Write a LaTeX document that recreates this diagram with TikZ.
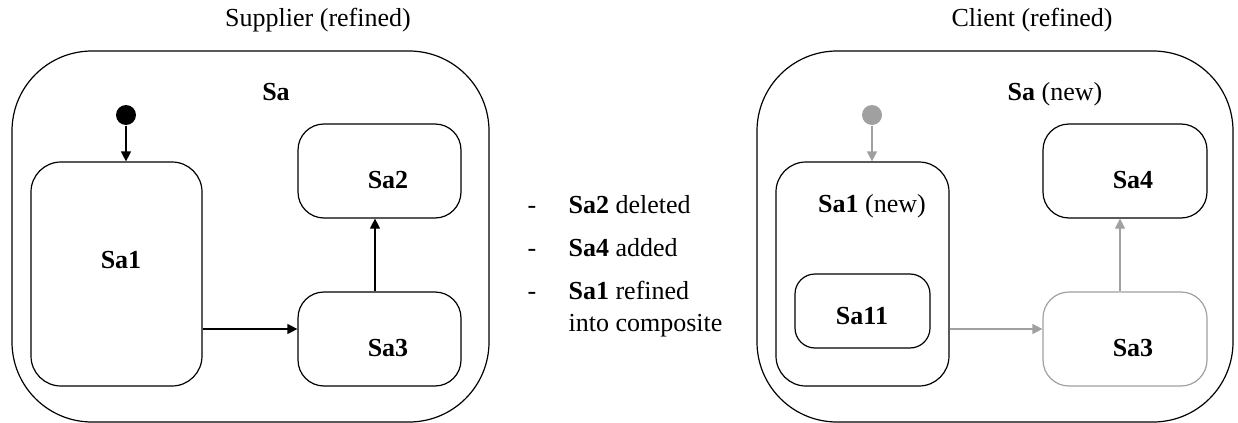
\documentclass[tikz,border=0pt]{standalone}
\usepackage{fontspec}
\setmainfont{Liberation Serif}
\usepackage{tikz}
\usetikzlibrary{arrows.meta,calc}
\definecolor{faded}{RGB}{160,160,160}

\begin{document}
\begin{tikzpicture}[x=0.5pt,y=-0.5pt,line width=0.6pt,
    font=\fontsize{13}{15}\selectfont,
    state/.style={draw, rounded corners=13pt, inner sep=0pt},
    outer/.style={draw, rounded corners=40pt, inner sep=0pt, minimum width=238.5pt, minimum height=185.5pt},
    initial/.style={circle, fill, inner sep=0pt, minimum size=10pt},
    txt/.style={anchor=base, inner sep=0pt},
    item/.style={anchor=base west, inner sep=0pt},
    trans/.style={-{Triangle[length=5pt,width=5pt]}}]
    %% Background
    \useasboundingbox (0,0) rectangle (1238,423);
    %% Supplier
    \node[txt] (supTitle) at (318,26) {Supplier (refined)};
    \node[outer] (supSa) at (250.5,236.5) {};
    \node[txt] (supSaTxt) at (276,100) {\textbf{Sa}};
    \node[initial] (supInit) at (126,115) {};
    \node[state, rounded corners=15pt, minimum width=85.5pt, minimum height=112pt] (supSa1) at (116.5,274) {};
    \node[state, minimum width=81.5pt, minimum height=47pt] (supSa2) at (379.5,171) {};
    \node[state, minimum width=81.5pt, minimum height=47pt] (supSa3) at (379.5,339) {};
    \node[txt] (supSa1Txt) at (121,268) {\textbf{Sa1}};
    \node[txt] (supSa2Txt) at (388,188) {\textbf{Sa2}};
    \node[txt] (supSa3Txt) at (388,356) {\textbf{Sa3}};
    \draw[trans] (supInit) -- (supSa1.north -| supInit);
    \draw[trans] (supSa1.east |- 0,329) -- (supSa3.west |- 0,329);
    \draw[trans] (supSa3.north -| 375,0) -- (supSa2.south -| 375,0);
    %% Changes
    \node[txt] (dashA) at (532,213) {-};
    \node[txt] (dashB) at (532,256) {-};
    \node[txt] (dashC) at (532,299) {-};
    \node[item] (chgA) at (568,213) {\textbf{Sa2} deleted};
    \node[item] (chgB) at (568,256) {\textbf{Sa4} added};
    \node[item] (chgC) at (568,299) {\textbf{Sa1} refined};
    \node[item] (chgD) at (568,331) {into composite};
    %% Client
    \node[txt] (cliTitle) at (1032,26) {Client (refined)};
    \node[outer, minimum width=238pt] (cliSa) at (995,236.5) {};
    \node[txt] (cliSaTxt) at (1055,100) {\textbf{Sa} (new)};
    \node[initial, fill=faded] (cliInit) at (872,115) {};
    \node[state, rounded corners=15pt, minimum width=86.5pt, minimum height=112pt] (cliSa1) at (862.5,274) {};
    \node[state, rounded corners=10pt, minimum width=67.5pt, minimum height=37pt] (cliSa11) at (862.5,311) {};
    \node[state, minimum width=82pt, minimum height=47pt] (cliSa4) at (1125,171) {};
    \node[state, draw=faded, minimum width=82pt, minimum height=47pt] (cliSa3) at (1125,339) {};
    \node[txt] (cliSa1Txt) at (872,212) {\textbf{Sa1} (new)};
    \node[txt] (cliSa11Txt) at (862,324) {\textbf{Sa11}};
    \node[txt] (cliSa4Txt) at (1133,188) {\textbf{Sa4}};
    \node[txt] (cliSa3Txt) at (1133,356) {\textbf{Sa3}};
    \draw[trans, color=faded] (cliInit) -- (cliSa1.north -| cliInit);
    \draw[trans, color=faded] (cliSa1.east |- 0,329) -- (cliSa3.west |- 0,329);
    \draw[trans, color=faded] (cliSa3.north -| 1120,0) -- (cliSa4.south -| 1120,0);
\end{tikzpicture}
\end{document}
